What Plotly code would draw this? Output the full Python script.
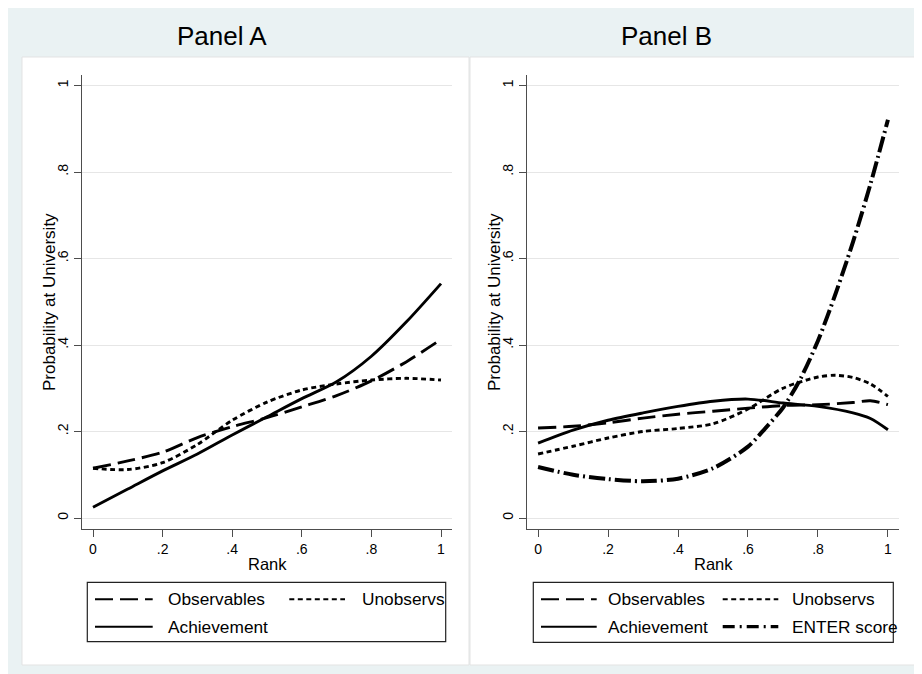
import plotly.graph_objects as go

# ---------------- data ----------------
tick_vals = [0, 0.2, 0.4, 0.6, 0.8, 1.0]
x_tick_text = ["0", ".2", ".4", ".6", ".8", "1"]
y_tick_text = ["0", ".2", ".4", ".6", ".8", "1"]

rank = [0, 0.1, 0.2, 0.3, 0.4, 0.5, 0.6, 0.7, 0.8, 0.9, 1.0]

# Panel A
a_observables = [0.115, 0.132, 0.152, 0.186, 0.211, 0.232, 0.257, 0.283, 0.317, 0.361, 0.413]
a_unobservs = [0.115, 0.112, 0.128, 0.170, 0.226, 0.268, 0.296, 0.310, 0.319, 0.323, 0.319]
a_achievement = [0.025, 0.067, 0.109, 0.148, 0.192, 0.234, 0.276, 0.315, 0.374, 0.453, 0.542]

# Panel B
b_obs_rank = [0, 0.1, 0.2, 0.3, 0.4, 0.5, 0.6, 0.7, 0.8, 0.9, 0.95, 1.0]
b_observables = [0.208, 0.212, 0.220, 0.231, 0.240, 0.247, 0.254, 0.260, 0.262, 0.267, 0.271, 0.262]
b_unobs_rank = [0, 0.1, 0.2, 0.3, 0.4, 0.5, 0.6, 0.7, 0.8, 0.85, 0.9, 0.95, 1.0]
b_unobservs = [0.148, 0.166, 0.185, 0.200, 0.207, 0.218, 0.252, 0.300, 0.326, 0.330, 0.325, 0.310, 0.281]
b_ach_rank = [0, 0.1, 0.2, 0.3, 0.4, 0.5, 0.6, 0.7, 0.8, 0.9, 0.95, 1.0]
b_achievement = [0.173, 0.203, 0.226, 0.243, 0.258, 0.270, 0.275, 0.266, 0.258, 0.243, 0.230, 0.204]
b_enter_rank = [0, 0.1, 0.2, 0.3, 0.4, 0.5, 0.6, 0.65, 0.7, 0.75, 0.8, 0.85, 0.9, 0.95, 1.0]
b_enter = [0.118, 0.100, 0.090, 0.085, 0.091, 0.115, 0.165, 0.208, 0.255, 0.322, 0.410, 0.518, 0.638, 0.772, 0.921]

panel_titles = ["Panel A", "Panel B"]
x_title = "Rank"
y_title = "Probability at University"
leg_a = ["Observables", "Unobservs", "Achievement"]
leg_b = ["Observables", "Unobservs", "Achievement", "ENTER score"]

# ---------------- styling ----------------
W, H = 922, 674
OFF = 8  # page body margin in screenshot
FONT = "Liberation Sans, Arial, Helvetica, sans-serif"
BLUE = "#eaf2f3"
AXC = "#4d4d4d"
GRID = "#e6e6e6"

DASH_OBS = "18px,7px"
DASH_UNOBS = "5px,3.5px"
DASH_ENTER = "16px,4px,2px,4px"


def px(x):
    return (x - OFF) / W


def py(y):
    return 1 - (y - OFF) / H


fig = go.Figure()


def add(xs, ys, dash, width, xa, ya):
    fig.add_trace(go.Scatter(
        x=xs, y=ys, mode="lines", xaxis=xa, yaxis=ya, showlegend=False,
        line=dict(color="black", width=width, dash=dash, shape="spline", smoothing=0.8),
        hoverinfo="skip"))


add(rank, a_observables, DASH_OBS, 2.9, "x", "y")
add(rank, a_unobservs, DASH_UNOBS, 2.9, "x", "y")
add(rank, a_achievement, "solid", 2.9, "x", "y")

add(b_obs_rank, b_observables, DASH_OBS, 2.9, "x2", "y2")
add(b_unobs_rank, b_unobservs, DASH_UNOBS, 2.9, "x2", "y2")
add(b_ach_rank, b_achievement, "solid", 2.9, "x2", "y2")
add(b_enter_rank, b_enter, DASH_ENTER, 4.0, "x2", "y2")

xr = [-0.0316, 1.0316]
yr = [-0.0254, 1.0243]
ydom = [py(529), py(75)]

xcommon = dict(range=xr, tickvals=tick_vals, ticktext=x_tick_text, ticks="outside",
               ticklen=7, tickcolor=AXC, showline=True, linecolor=AXC, linewidth=1,
               showgrid=False, zeroline=False, fixedrange=True,
               tickfont=dict(family=FONT, size=14, color="black"))
ycommon = dict(range=yr, tickvals=tick_vals, ticktext=y_tick_text, ticks="outside",
               ticklen=7, tickcolor=AXC, showline=True, linecolor=AXC, linewidth=1,
               showgrid=True, gridcolor=GRID, gridwidth=1, zeroline=False,
               tickangle=-90, fixedrange=True,
               tickfont=dict(family=FONT, size=14, color="black"))

fig.update_layout(
    width=W, height=H,
    margin=dict(l=0, r=0, t=0, b=0),
    paper_bgcolor=BLUE, plot_bgcolor="rgba(0,0,0,0)",
    showlegend=False,
    xaxis=dict(domain=[px(82), px(452)], anchor="y", **xcommon),
    yaxis=dict(domain=ydom, anchor="x", **ycommon),
    xaxis2=dict(domain=[px(527), px(899)], anchor="y2", **xcommon),
    yaxis2=dict(domain=ydom, anchor="x2", **ycommon),
)

shapes = []
# white panel regions
for x0, x1 in [(22, 469), (470, 916)]:
    shapes.append(dict(type="rect", xref="paper", yref="paper", x0=px(x0), x1=px(x1), y0=py(665), y1=py(57),
                       fillcolor="white", line=dict(color="#e3e3e3", width=1), layer="below"))

annotations = []
# titles
for cx, t in [(221.5, panel_titles[0]), (666, panel_titles[1])]:
    annotations.append(dict(xref="paper", yref="paper", x=px(cx), y=py(36), text=t, showarrow=False,
                            xanchor="center", yanchor="middle", font=dict(family=FONT, size=26, color="black")))
# axis titles
for cx in [267, 713]:
    annotations.append(dict(xref="paper", yref="paper", x=px(cx), y=py(564), text=x_title, showarrow=False,
                            xanchor="center", yanchor="middle", font=dict(family=FONT, size=16.5, color="black")))
for cx in [49, 494]:
    annotations.append(dict(xref="paper", yref="paper", x=px(cx), y=py(302), text=y_title, showarrow=False,
                            textangle=-90, xanchor="center", yanchor="middle",
                            font=dict(family=FONT, size=17, color="black")))


def legend_box(x0, x1, y0, y1):
    shapes.append(dict(type="rect", xref="paper", yref="paper", x0=px(x0), x1=px(x1), y0=py(y1), y1=py(y0),
                       fillcolor="white", line=dict(color="#222222", width=1.2), layer="above"))


def legend_item(lx0, lx1, ly, tx, text, dash, width):
    shapes.append(dict(type="line", xref="paper", yref="paper", x0=px(lx0), x1=px(lx1), y0=py(ly), y1=py(ly),
                       line=dict(color="black", width=width, dash=dash), layer="above"))
    annotations.append(dict(xref="paper", yref="paper", x=px(tx - 1), y=py(ly), text=text, showarrow=False,
                            xanchor="left", yanchor="middle", font=dict(family=FONT, size=17.3, color="black")))


# legend A
legend_box(87.3, 445.7, 582.3, 641.7)
legend_item(95, 152.7, 599.3, 167.3, leg_a[0], DASH_OBS, 2)
legend_item(289.3, 345, 599.3, 360.7, leg_a[1], "5px,3.5px", 2)
legend_item(95, 152.7, 626.7, 167.3, leg_a[2], "solid", 2)

# legend B
legend_box(533.3, 893.3, 582.3, 642.3)
legend_item(541, 596.7, 599.3, 607.3, leg_b[0], DASH_OBS, 2)
legend_item(722.7, 778.3, 599.3, 791, leg_b[1], "5px,3.5px", 2)
legend_item(541, 596.7, 626.7, 607.3, leg_b[2], "solid", 2)
legend_item(722.7, 778.3, 626.7, 791, leg_b[3], "12px,5px,2px,5px", 3.2)

fig.update_layout(shapes=shapes, annotations=annotations)

fig.write_html("out.html")
